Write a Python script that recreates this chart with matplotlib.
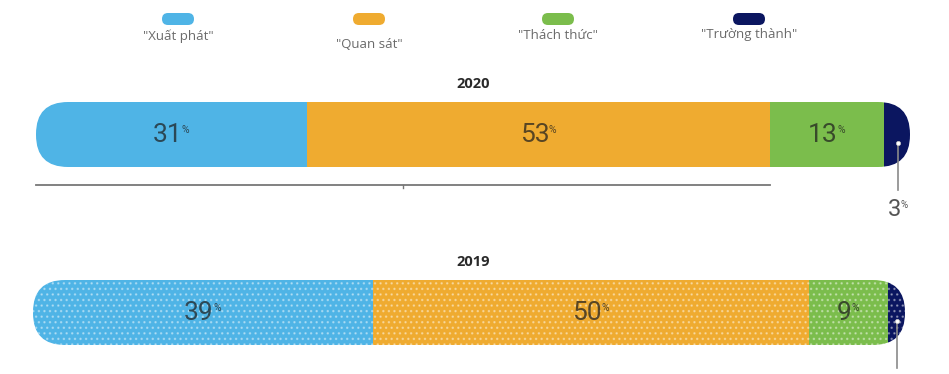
import matplotlib
matplotlib.use('Agg')
import matplotlib.pyplot as plt
from matplotlib.patches import Rectangle, FancyBboxPatch
import numpy as np

# data
years = ['2020', '2019']
categories = ['"Xuất phát"', '"Quan sát"', '"Thách thức"', '"Trường thành"']
shares_2020 = [31, 53, 13, 3]
shares_2019 = [39, 50, 9, 2]
colors = ['#4fb4e6', '#efab30', '#7bbd4c', '#0b1660']

plt.rcParams['font.family'] = ['Open Sans', 'DejaVu Sans']

fig = plt.figure(figsize=(9.49, 3.74), dpi=100)
ax = fig.add_axes([0, 0, 1, 1])
ax.set_xlim(0, 949)
ax.set_ylim(374, 0)
ax.axis('off')

# legend pills
legend_x = [178, 369, 558, 749]
legend_text_y = [36, 44, 35, 34]
for lx, ty, c, lab in zip(legend_x, legend_text_y, colors, categories):
    ax.add_patch(FancyBboxPatch((lx - 16, 13), 32, 12, boxstyle='round,pad=0,rounding_size=6',
                                fc=c, ec='none'))
    ax.text(lx, ty, lab, ha='center', va='center', fontsize=9.5, color='#6a6a6a')

bars = [
    dict(year='2020', shares=shares_2020, left=36, width=874, top=102, dotted=False),
    dict(year='2019', shares=shares_2019, left=33, width=872, top=280, dotted=True),
]
h = 65

for b in bars:
    vals = np.array(b['shares'], dtype=float)
    scale = b['width'] / vals.sum()
    edges = b['left'] + np.concatenate([[0], np.cumsum(vals)]) * scale
    clip = FancyBboxPatch((b['left'], b['top']), b['width'], h,
                          boxstyle='round,pad=0,rounding_size=32', fc='none', ec='none')
    ax.add_patch(clip)
    for i, c in enumerate(colors):
        r = Rectangle((edges[i], b['top']), edges[i + 1] - edges[i], h, fc=c,
                      ec='#ffffff60' if b['dotted'] else 'none', lw=0,
                      hatch='...' if b['dotted'] else None)
        ax.add_patch(r)
        r.set_clip_path(clip)
    cy = b['top'] + h / 2
    # value labels inside
    for i in range(len(vals) - 1):
        cx = (edges[i] + edges[i + 1]) / 2 - 4
        t = ax.text(cx, cy, f'{int(vals[i])}', ha='center', va='center', fontsize=19,
                    family='Roboto', color='#1e1e1e', alpha=0.72)
        ax.annotate('%', xy=(1, 1), xycoords=t, xytext=(-0.5, -2), textcoords='offset points',
                    ha='left', va='top', fontsize=7.5, family='Roboto', color='#1e1e1e', alpha=0.72)
    # year title
    ax.text(473, b['top'] - 18, b['year'], ha='center', va='center', fontsize=10.5,
            fontweight='bold', color='#2a2a2a')
    # leader for the last small segment
    lx = (edges[-2] + edges[-1]) / 2 + 1
    dot_y = cy + 8
    if b['year'] == '2020':
        ax.plot([lx, lx], [dot_y, 190], color='#8a8a8a', lw=1.2)
        t = ax.text(lx - 3, 209, f'{int(vals[-1])}', ha='center', va='center', fontsize=17,
                    family='Roboto', color='#555555')
        ax.annotate('%', xy=(1, 1), xycoords=t, xytext=(-0.5, -2), textcoords='offset points',
                    ha='left', va='top', fontsize=7, family='Roboto', color='#555555')
        # bracket under the first two segments
        ax.plot([edges[0], edges[2]], [185, 185], color='#777777', lw=1.3)
        mid = (edges[0] + edges[2]) / 2
        ax.plot([mid, mid], [185, 188], color='#777777', lw=1.0)
    else:
        ax.plot([lx, lx], [dot_y, 368], color='#8a8a8a', lw=1.2)
    ax.plot(lx, dot_y, 'o', ms=3, mfc='white', mec='#c8c8c8', mew=0.5)

fig.savefig('out.png', dpi=100)
